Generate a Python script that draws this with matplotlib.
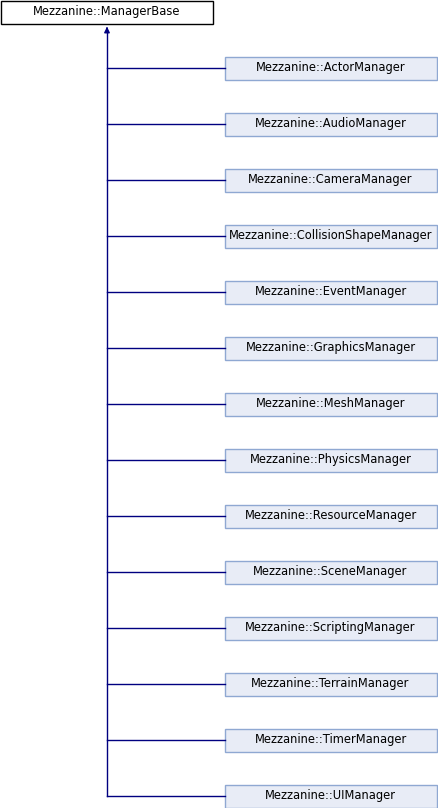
import matplotlib.pyplot as plt
from matplotlib.patches import Rectangle, FancyArrowPatch

root = "Mezzanine::ManagerBase"
children = ["ActorManager", "AudioManager", "CameraManager", "CollisionShapeManager",
            "EventManager", "GraphicsManager", "MeshManager", "PhysicsManager",
            "ResourceManager", "SceneManager", "ScriptingManager", "TerrainManager",
            "TimerManager", "UIManager"]

W, H = 438, 808
fig = plt.figure(figsize=(W / 100, H / 100), dpi=100)
ax = fig.add_axes([0, 0, 1, 1])
ax.set_xlim(0, W)
ax.set_ylim(H, 0)
ax.axis("off")

line_col = "#000080"
font = dict(fontsize=8.3, family="DejaVu Sans", ha="center", va="center")

# root box
ax.add_patch(Rectangle((0.5, 0.5), 212, 23, fc="white", ec="black", lw=1))
ax.text(106.5, 12, root, **font)

# children
x0, bw, bh = 224.5, 212, 23
first, step = 68, 56
ys = [first + step * i for i in range(len(children))]
for y, name in zip(ys, children):
    ax.add_patch(Rectangle((x0, y - bh / 2), bw, bh, fc="#E8ECF6", ec="#8FA8D2", lw=1))
    ax.text(x0 + bw / 2, y, "Mezzanine::" + name, **font)
    ax.plot([107, x0], [y, y], color=line_col, lw=1)

ax.plot([107, 107], [30, ys[-1]], color=line_col, lw=1)
ax.add_patch(FancyArrowPatch((107, 32), (107, 24), arrowstyle="-|>", mutation_scale=8,
                             color=line_col, lw=1))

fig.savefig("out.png", dpi=100)
